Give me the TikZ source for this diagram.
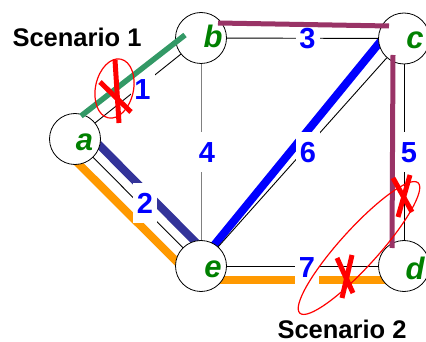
\documentclass[tikz,border=0pt]{standalone}
\usepackage{fontspec}
\setmainfont{Liberation Sans}
\usetikzlibrary{calc}
\definecolor{vgreen}{HTML}{008000}
\definecolor{pathgreen}{HTML}{339966}
\definecolor{pathpurple}{HTML}{993366}
\definecolor{pathnavy}{HTML}{333399}
\definecolor{pathorange}{HTML}{FF9900}
\definecolor{pathblue}{HTML}{0000FF}
\pgfdeclarelayer{under}
\pgfsetlayers{under,main}
\begin{document}
\begin{tikzpicture}[x=1pt,y=-1pt,
  vertex/.style={circle,draw=black,fill=white,line width=0.8pt,minimum size=51pt,inner sep=0pt},
  vname/.style={text=vgreen,inner sep=0pt,font=\fontsize{31}{31}\selectfont\bfseries\itshape},
  edge/.style={line width=0.9pt,black},
  weight/.style={fill=white,text=blue,inner sep=0pt,minimum width=24pt,minimum height=40pt,
    font=\fontsize{29}{29}\selectfont\bfseries},
  route/.style={line width=#1,line cap=butt},
  cross/.style={red,line width=5pt,line cap=butt},
  ring/.style={red,line width=1.2pt},
  caption/.style={inner sep=0pt,font=\fontsize{25.5}{25.5}\selectfont\bfseries}]
\useasboundingbox (0,0) rectangle (426,342);

% vertices
\node[vertex] (a) at (75,139) {};
\node[vertex] (b) at (201,38) {};
\node[vertex] (c) at (404,38.5) {};
\node[vertex] (d) at (404,266) {};
\node[vertex] (e) at (201,266) {};
\node[vname] (la) at (84.5,142) {a};
\node[vname] (lb) at (213,36) {b};
\node[vname] (lc) at (415,40.5) {c};
\node[vname] (ld) at (415,268) {d};
\node[vname] (le) at (213,269) {e};

% highlighted routes running beneath the vertices
\coordinate (navyA) at (84.2,129.8);
\coordinate (navyE) at (210.9,257.6);
\coordinate (orA) at (64.4,149.6);
\coordinate (orE) at (204,289);
\coordinate (orE2) at (198,280);
\coordinate (orD) at (385,280);
\coordinate (blueE) at (211,249);
\coordinate (blueC) at (389,31);
\begin{pgfonlayer}{under}
  \draw[route=8pt,pathnavy] (navyA) -- (navyE);
  \draw[route=8pt,pathorange] (orA) -- (orE);
  \draw[route=8pt,pathorange] (orE2) -- (orD);
  \draw[route=8pt,pathblue] (blueE) -- (blueC);
\end{pgfonlayer}

% edges
\draw[edge] (a) -- (b);
\draw[edge] (b) -- (c);
\draw[edge,gray] (b) -- (e);
\draw[edge] (c) -- (e);
\draw[edge] (c) -- (d);
\draw[edge] (e) -- (d);
\draw[edge] (a) -- (e);

% edge weights
\node[weight] (w1) at (142.5,89.5) {1};
\node[weight] (w2) at (145,203) {2};
\node[weight] (w3) at (307.5,39) {3};
\node[weight] (w4) at (207,152.5) {4};
\node[weight] (w5) at (409,152.5) {5};
\node[weight] (w6) at (308,152.5) {6};
\node[weight] (w7) at (307,267.5) {7};

% highlighted routes drawn over the vertices
\coordinate (grA) at (81,116);
\coordinate (grB) at (185,35);
\coordinate (puB) at (218,23);
\coordinate (puC) at (389,26);
\coordinate (puC2) at (393,55);
\coordinate (puD) at (392,248);
\draw[route=5.5pt,pathgreen] (grA) -- (grB);
\draw[route=5pt,pathpurple] (puB) -- (puC);
\draw[route=5pt,pathpurple] (puC2) -- (puD);

% failure marks
\coordinate (r1) at (114.5,88.5);
\draw[ring,rotate around={-12:(r1)}] (r1) ellipse [x radius=19, y radius=30];
\coordinate (x1a) at (100,82);
\coordinate (x1b) at (131,112);
\coordinate (x1c) at (115,60);
\coordinate (x1d) at (119,123);
\draw[cross] (x1a) -- (x1b);
\draw[cross] (x1c) -- (x1d);

\coordinate (r2) at (359,248);
\draw[ring,rotate around={47.8:(r2)}] (r2) ellipse [x radius=88, y radius=19];
\coordinate (x2a) at (393,178);
\coordinate (x2b) at (412,212);
\coordinate (x2c) at (410,175);
\coordinate (x2d) at (398,217);
\draw[cross] (x2a) -- (x2b);
\draw[cross] (x2c) -- (x2d);
\coordinate (x3a) at (337,258);
\coordinate (x3b) at (353,293);
\coordinate (x3c) at (352,255);
\coordinate (x3d) at (342,298);
\draw[cross] (x3a) -- (x3b);
\draw[cross] (x3c) -- (x3d);

% captions
\node[caption] (s1) at (77,37.5) {Scenario 1};
\node[caption] (s2) at (342,329.5) {Scenario 2};
\end{tikzpicture}
\end{document}
